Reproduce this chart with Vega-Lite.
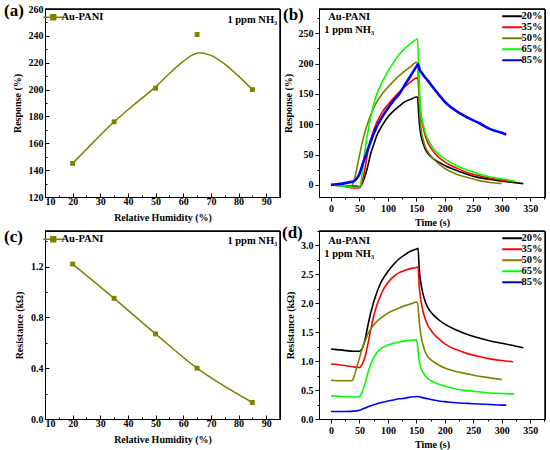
{
  "$schema": "https://vega.github.io/schema/vega-lite/v6.json",
  "padding": {"left": 3, "top": 1, "right": 0, "bottom": 0},
  "background": "white",
  "bounds": "flush",
  "align": "each",
  "columns": 2,
  "spacing": {"row": 34, "column": 39},
  "resolve": {
    "scale": {"x": "independent", "y": "independent", "color": "independent", "strokeWidth": "independent"},
    "legend": {"color": "independent"}
  },
  "datasets": {
    "a_pts": [
      {"rh": 20, "v": 145, "s": "Au-PANI"},
      {"rh": 35, "v": 176, "s": "Au-PANI"},
      {"rh": 50, "v": 201, "s": "Au-PANI"},
      {"rh": 65, "v": 241, "s": "Au-PANI"},
      {"rh": 85, "v": 200, "s": "Au-PANI"}
    ],
    "a_fit": [
      {"rh": 20, "v": 145, "s": "Au-PANI"},
      {"rh": 25, "v": 155.5, "s": "Au-PANI"},
      {"rh": 30, "v": 166, "s": "Au-PANI"},
      {"rh": 35, "v": 176, "s": "Au-PANI"},
      {"rh": 40, "v": 185, "s": "Au-PANI"},
      {"rh": 45, "v": 193.5, "s": "Au-PANI"},
      {"rh": 50, "v": 202, "s": "Au-PANI"},
      {"rh": 55, "v": 212, "s": "Au-PANI"},
      {"rh": 60, "v": 221, "s": "Au-PANI"},
      {"rh": 63, "v": 225.5, "s": "Au-PANI"},
      {"rh": 66, "v": 227.5, "s": "Au-PANI"},
      {"rh": 70, "v": 225.5, "s": "Au-PANI"},
      {"rh": 75, "v": 219, "s": "Au-PANI"},
      {"rh": 80, "v": 210, "s": "Au-PANI"},
      {"rh": 85, "v": 200, "s": "Au-PANI"}
    ],
    "c_pts": [
      {"rh": 20, "v": 1.22, "s": "Au-PANI"},
      {"rh": 35, "v": 0.95, "s": "Au-PANI"},
      {"rh": 50, "v": 0.67, "s": "Au-PANI"},
      {"rh": 65, "v": 0.40, "s": "Au-PANI"},
      {"rh": 85, "v": 0.13, "s": "Au-PANI"}
    ],
    "resp": [
      {"rh":"20%","t":0,"v":0},{"rh":"20%","t":10,"v":0},{"rh":"20%","t":20,"v":-1},{"rh":"20%","t":30,"v":-2},{"rh":"20%","t":40,"v":-2},{"rh":"20%","t":50,"v":-3},{"rh":"20%","t":55,"v":3},{"rh":"20%","t":60,"v":15},{"rh":"20%","t":65,"v":32},{"rh":"20%","t":70,"v":52},{"rh":"20%","t":75,"v":66},{"rh":"20%","t":80,"v":80},{"rh":"20%","t":90,"v":98},{"rh":"20%","t":100,"v":112},{"rh":"20%","t":110,"v":122},{"rh":"20%","t":120,"v":130},{"rh":"20%","t":130,"v":137},{"rh":"20%","t":140,"v":141},{"rh":"20%","t":150,"v":145},{"rh":"20%","t":152,"v":145},{"rh":"20%","t":154,"v":118},{"rh":"20%","t":156,"v":95},{"rh":"20%","t":158,"v":82},{"rh":"20%","t":162,"v":68},{"rh":"20%","t":166,"v":58},{"rh":"20%","t":170,"v":52},{"rh":"20%","t":180,"v":43},{"rh":"20%","t":190,"v":37},{"rh":"20%","t":200,"v":32},{"rh":"20%","t":220,"v":24},{"rh":"20%","t":240,"v":17},{"rh":"20%","t":260,"v":12},{"rh":"20%","t":280,"v":9},{"rh":"20%","t":300,"v":6},{"rh":"20%","t":320,"v":4},{"rh":"20%","t":338,"v":2},
      {"rh":"35%","t":0,"v":0},{"rh":"35%","t":10,"v":-1},{"rh":"35%","t":20,"v":-2},{"rh":"35%","t":30,"v":-4},{"rh":"35%","t":40,"v":-5},{"rh":"35%","t":50,"v":-5},{"rh":"35%","t":55,"v":5},{"rh":"35%","t":60,"v":28},{"rh":"35%","t":65,"v":55},{"rh":"35%","t":70,"v":75},{"rh":"35%","t":75,"v":90},{"rh":"35%","t":80,"v":102},{"rh":"35%","t":90,"v":120},{"rh":"35%","t":100,"v":132},{"rh":"35%","t":110,"v":143},{"rh":"35%","t":120,"v":153},{"rh":"35%","t":130,"v":162},{"rh":"35%","t":140,"v":170},{"rh":"35%","t":150,"v":176},{"rh":"35%","t":153,"v":176},{"rh":"35%","t":155,"v":145},{"rh":"35%","t":158,"v":115},{"rh":"35%","t":162,"v":95},{"rh":"35%","t":166,"v":80},{"rh":"35%","t":170,"v":70},{"rh":"35%","t":180,"v":55},{"rh":"35%","t":190,"v":45},{"rh":"35%","t":200,"v":38},{"rh":"35%","t":220,"v":28},{"rh":"35%","t":240,"v":20},{"rh":"35%","t":260,"v":15},{"rh":"35%","t":280,"v":11},{"rh":"35%","t":300,"v":8},{"rh":"35%","t":320,"v":5},
      {"rh":"50%","t":0,"v":0},{"rh":"50%","t":10,"v":0},{"rh":"50%","t":20,"v":-1},{"rh":"50%","t":30,"v":-2},{"rh":"50%","t":35,"v":-2},{"rh":"50%","t":40,"v":5},{"rh":"50%","t":45,"v":25},{"rh":"50%","t":50,"v":48},{"rh":"50%","t":55,"v":70},{"rh":"50%","t":60,"v":88},{"rh":"50%","t":65,"v":103},{"rh":"50%","t":70,"v":116},{"rh":"50%","t":80,"v":136},{"rh":"50%","t":90,"v":150},{"rh":"50%","t":100,"v":161},{"rh":"50%","t":110,"v":171},{"rh":"50%","t":120,"v":180},{"rh":"50%","t":130,"v":188},{"rh":"50%","t":140,"v":195},{"rh":"50%","t":150,"v":202},{"rh":"50%","t":152,"v":201},{"rh":"50%","t":154,"v":160},{"rh":"50%","t":156,"v":120},{"rh":"50%","t":158,"v":95},{"rh":"50%","t":162,"v":75},{"rh":"50%","t":166,"v":62},{"rh":"50%","t":170,"v":55},{"rh":"50%","t":180,"v":43},{"rh":"50%","t":190,"v":34},{"rh":"50%","t":200,"v":27},{"rh":"50%","t":220,"v":18},{"rh":"50%","t":240,"v":12},{"rh":"50%","t":260,"v":7},{"rh":"50%","t":280,"v":4},{"rh":"50%","t":300,"v":2},
      {"rh":"65%","t":0,"v":0},{"rh":"65%","t":10,"v":-1},{"rh":"65%","t":20,"v":-2},{"rh":"65%","t":30,"v":-3},{"rh":"65%","t":40,"v":-4},{"rh":"65%","t":50,"v":-4},{"rh":"65%","t":55,"v":20},{"rh":"65%","t":60,"v":58},{"rh":"65%","t":65,"v":88},{"rh":"65%","t":70,"v":112},{"rh":"65%","t":75,"v":132},{"rh":"65%","t":80,"v":148},{"rh":"65%","t":90,"v":170},{"rh":"65%","t":100,"v":187},{"rh":"65%","t":110,"v":202},{"rh":"65%","t":120,"v":215},{"rh":"65%","t":130,"v":225},{"rh":"65%","t":140,"v":233},{"rh":"65%","t":150,"v":240},{"rh":"65%","t":152,"v":241},{"rh":"65%","t":154,"v":200},{"rh":"65%","t":156,"v":150},{"rh":"65%","t":158,"v":120},{"rh":"65%","t":162,"v":100},{"rh":"65%","t":166,"v":85},{"rh":"65%","t":170,"v":76},{"rh":"65%","t":180,"v":60},{"rh":"65%","t":190,"v":50},{"rh":"65%","t":200,"v":43},{"rh":"65%","t":220,"v":32},{"rh":"65%","t":240,"v":24},{"rh":"65%","t":260,"v":18},{"rh":"65%","t":280,"v":13},{"rh":"65%","t":300,"v":10},{"rh":"65%","t":325,"v":6},
      {"rh":"85%","t":0,"v":0},{"rh":"85%","t":10,"v":1},{"rh":"85%","t":20,"v":2},{"rh":"85%","t":30,"v":4},{"rh":"85%","t":40,"v":6},{"rh":"85%","t":45,"v":10},{"rh":"85%","t":50,"v":18},{"rh":"85%","t":55,"v":32},{"rh":"85%","t":60,"v":46},{"rh":"85%","t":70,"v":72},{"rh":"85%","t":80,"v":95},{"rh":"85%","t":90,"v":112},{"rh":"85%","t":100,"v":126},{"rh":"85%","t":110,"v":139},{"rh":"85%","t":120,"v":150},{"rh":"85%","t":130,"v":165},{"rh":"85%","t":140,"v":180},{"rh":"85%","t":150,"v":195},{"rh":"85%","t":153,"v":199},{"rh":"85%","t":156,"v":190},{"rh":"85%","t":160,"v":184},{"rh":"85%","t":170,"v":172},{"rh":"85%","t":180,"v":160},{"rh":"85%","t":190,"v":148},{"rh":"85%","t":200,"v":137},{"rh":"85%","t":220,"v":122},{"rh":"85%","t":240,"v":111},{"rh":"85%","t":260,"v":102},{"rh":"85%","t":280,"v":92},{"rh":"85%","t":300,"v":86},{"rh":"85%","t":308,"v":83}
    ],
    "res": [
      {"rh":"20%","t":0,"v":1.21},{"rh":"20%","t":20,"v":1.19},{"rh":"20%","t":40,"v":1.17},{"rh":"20%","t":50,"v":1.17},{"rh":"20%","t":55,"v":1.22},{"rh":"20%","t":60,"v":1.38},{"rh":"20%","t":65,"v":1.62},{"rh":"20%","t":70,"v":1.84},{"rh":"20%","t":75,"v":2.02},{"rh":"20%","t":80,"v":2.17},{"rh":"20%","t":85,"v":2.3},{"rh":"20%","t":90,"v":2.4},{"rh":"20%","t":100,"v":2.55},{"rh":"20%","t":110,"v":2.67},{"rh":"20%","t":120,"v":2.77},{"rh":"20%","t":130,"v":2.84},{"rh":"20%","t":140,"v":2.9},{"rh":"20%","t":150,"v":2.94},{"rh":"20%","t":153,"v":2.95},{"rh":"20%","t":155,"v":2.6},{"rh":"20%","t":158,"v":2.35},{"rh":"20%","t":162,"v":2.15},{"rh":"20%","t":166,"v":2.02},{"rh":"20%","t":170,"v":1.93},{"rh":"20%","t":180,"v":1.8},{"rh":"20%","t":190,"v":1.71},{"rh":"20%","t":200,"v":1.64},{"rh":"20%","t":220,"v":1.54},{"rh":"20%","t":240,"v":1.46},{"rh":"20%","t":260,"v":1.4},{"rh":"20%","t":280,"v":1.35},{"rh":"20%","t":300,"v":1.31},{"rh":"20%","t":320,"v":1.27},{"rh":"20%","t":338,"v":1.23},
      {"rh":"35%","t":0,"v":0.95},{"rh":"35%","t":20,"v":0.93},{"rh":"35%","t":40,"v":0.9},{"rh":"35%","t":50,"v":0.89},{"rh":"35%","t":55,"v":0.95},{"rh":"35%","t":60,"v":1.08},{"rh":"35%","t":65,"v":1.3},{"rh":"35%","t":70,"v":1.55},{"rh":"35%","t":75,"v":1.78},{"rh":"35%","t":80,"v":1.95},{"rh":"35%","t":85,"v":2.08},{"rh":"35%","t":90,"v":2.2},{"rh":"35%","t":100,"v":2.36},{"rh":"35%","t":110,"v":2.46},{"rh":"35%","t":120,"v":2.53},{"rh":"35%","t":130,"v":2.57},{"rh":"35%","t":140,"v":2.6},{"rh":"35%","t":150,"v":2.62},{"rh":"35%","t":153,"v":2.63},{"rh":"35%","t":155,"v":2.3},{"rh":"35%","t":158,"v":2.05},{"rh":"35%","t":162,"v":1.85},{"rh":"35%","t":166,"v":1.72},{"rh":"35%","t":170,"v":1.62},{"rh":"35%","t":180,"v":1.48},{"rh":"35%","t":190,"v":1.38},{"rh":"35%","t":200,"v":1.3},{"rh":"35%","t":220,"v":1.2},{"rh":"35%","t":240,"v":1.13},{"rh":"35%","t":260,"v":1.08},{"rh":"35%","t":280,"v":1.04},{"rh":"35%","t":300,"v":1.01},{"rh":"35%","t":320,"v":0.99},
      {"rh":"50%","t":0,"v":0.67},{"rh":"50%","t":20,"v":0.66},{"rh":"50%","t":37,"v":0.66},{"rh":"50%","t":40,"v":0.72},{"rh":"50%","t":45,"v":0.88},{"rh":"50%","t":50,"v":1.05},{"rh":"50%","t":55,"v":1.22},{"rh":"50%","t":60,"v":1.35},{"rh":"50%","t":65,"v":1.47},{"rh":"50%","t":70,"v":1.56},{"rh":"50%","t":80,"v":1.68},{"rh":"50%","t":90,"v":1.76},{"rh":"50%","t":100,"v":1.83},{"rh":"50%","t":110,"v":1.88},{"rh":"50%","t":120,"v":1.92},{"rh":"50%","t":130,"v":1.96},{"rh":"50%","t":140,"v":1.99},{"rh":"50%","t":150,"v":2.02},{"rh":"50%","t":152,"v":2.01},{"rh":"50%","t":155,"v":1.7},{"rh":"50%","t":158,"v":1.45},{"rh":"50%","t":162,"v":1.27},{"rh":"50%","t":166,"v":1.15},{"rh":"50%","t":170,"v":1.08},{"rh":"50%","t":180,"v":0.99},{"rh":"50%","t":190,"v":0.93},{"rh":"50%","t":200,"v":0.88},{"rh":"50%","t":220,"v":0.82},{"rh":"50%","t":240,"v":0.78},{"rh":"50%","t":260,"v":0.74},{"rh":"50%","t":280,"v":0.71},{"rh":"50%","t":300,"v":0.68},
      {"rh":"65%","t":0,"v":0.4},{"rh":"65%","t":20,"v":0.39},{"rh":"65%","t":40,"v":0.38},{"rh":"65%","t":50,"v":0.39},{"rh":"65%","t":55,"v":0.47},{"rh":"65%","t":60,"v":0.62},{"rh":"65%","t":65,"v":0.8},{"rh":"65%","t":70,"v":0.95},{"rh":"65%","t":75,"v":1.06},{"rh":"65%","t":80,"v":1.14},{"rh":"65%","t":90,"v":1.23},{"rh":"65%","t":100,"v":1.28},{"rh":"65%","t":110,"v":1.31},{"rh":"65%","t":120,"v":1.33},{"rh":"65%","t":130,"v":1.35},{"rh":"65%","t":140,"v":1.36},{"rh":"65%","t":150,"v":1.37},{"rh":"65%","t":153,"v":1.2},{"rh":"65%","t":155,"v":1.0},{"rh":"65%","t":158,"v":0.88},{"rh":"65%","t":162,"v":0.8},{"rh":"65%","t":166,"v":0.74},{"rh":"65%","t":170,"v":0.7},{"rh":"65%","t":180,"v":0.64},{"rh":"65%","t":190,"v":0.6},{"rh":"65%","t":200,"v":0.57},{"rh":"65%","t":220,"v":0.52},{"rh":"65%","t":240,"v":0.49},{"rh":"65%","t":260,"v":0.47},{"rh":"65%","t":280,"v":0.45},{"rh":"65%","t":300,"v":0.44},{"rh":"65%","t":322,"v":0.43},
      {"rh":"85%","t":0,"v":0.13},{"rh":"85%","t":25,"v":0.13},{"rh":"85%","t":45,"v":0.14},{"rh":"85%","t":50,"v":0.15},{"rh":"85%","t":60,"v":0.19},{"rh":"85%","t":70,"v":0.23},{"rh":"85%","t":80,"v":0.26},{"rh":"85%","t":90,"v":0.29},{"rh":"85%","t":100,"v":0.31},{"rh":"85%","t":110,"v":0.33},{"rh":"85%","t":120,"v":0.35},{"rh":"85%","t":130,"v":0.36},{"rh":"85%","t":140,"v":0.38},{"rh":"85%","t":152,"v":0.39},{"rh":"85%","t":160,"v":0.37},{"rh":"85%","t":170,"v":0.35},{"rh":"85%","t":180,"v":0.33},{"rh":"85%","t":190,"v":0.31},{"rh":"85%","t":200,"v":0.3},{"rh":"85%","t":220,"v":0.28},{"rh":"85%","t":240,"v":0.27},{"rh":"85%","t":260,"v":0.26},{"rh":"85%","t":280,"v":0.25},{"rh":"85%","t":300,"v":0.24},{"rh":"85%","t":308,"v":0.24}
    ]
  },
  "concat": [
    {
      "width": 235,
      "height": 188,
      "view": {"stroke": "black", "strokeWidth": 1},
      "title": {"text": "(a)", "anchor": "start", "frame": "group", "dx": -41, "offset": -29, "baseline": "alphabetic"},
      "layer": [
        {
          "data": {"name": "a_fit"},
          "mark": {"type": "line", "interpolate": "monotone", "strokeWidth": 1.5},
          "encoding": {
            "x": {"field": "rh", "type": "quantitative", "scale": {"domain": [10, 95], "nice": false, "zero": false},
              "axis": {"title": "Relative Humidity (%)", "values": [10,15,20,25,30,35,40,45,50,55,60,65,70,75,80,85,90],
                "tickCount": 100, "labelOverlap": false,
                "labelExpr": "datum.value % 10 === 0 ? datum.label : ''",
                "tickSize": {"condition": {"test": "datum.value % 10 === 0", "value": -4}, "value": -2},
                "labelPadding": 3, "titlePadding": 4}},
            "y": {"field": "v", "type": "quantitative", "scale": {"domain": [120, 260], "nice": false, "zero": false},
              "axis": {"title": "Response (%)", "values": [120,130,140,150,160,170,180,190,200,210,220,230,240,250,260],
                "tickCount": 100, "labelOverlap": false,
                "labelExpr": "datum.value % 20 === 0 ? datum.label : ''",
                "tickSize": {"condition": {"test": "datum.value % 20 === 0", "value": -4}, "value": -2},
                "labelPadding": 6, "titlePadding": 6}},
            "color": {"field": "s", "type": "nominal", "scale": {"range": ["#808000"]},
              "legend": {"title": null, "orient": "top-left", "offset": 3, "symbolType": "M-2.5,0L2.5,0M-0.6,-0.6L0.6,-0.6L0.6,0.6L-0.6,0.6Z", "symbolSize": 64, "symbolStrokeWidth": 1.5, "symbolFillColor": "#808000", "labelOffset": 3}}
          }
        },
        {
          "data": {"name": "a_pts"},
          "mark": {"type": "square", "size": 24, "opacity": 1, "filled": true},
          "encoding": {
            "x": {"field": "rh", "type": "quantitative"},
            "y": {"field": "v", "type": "quantitative"},
            "color": {"field": "s", "type": "nominal"}
          }
        },
        {
          "data": {"values": [{}]},
          "mark": {"type": "text", "text": "1 ppm NH₃", "align": "right", "baseline": "middle", "fontSize": 10.5, "fontWeight": "bold", "font": "Liberation Serif", "color": "black"},
          "encoding": {"x": {"datum": 94}, "y": {"datum": 252}}
        },
        {
          "data": {"values": [{}]},
          "mark": {"type": "rule", "color": "black", "strokeWidth": 1.5, "clip": false},
          "encoding": {"y": {"datum": 260}}
        },
        {
          "data": {"values": [{}]},
          "mark": {"type": "rule", "color": "black", "strokeWidth": 1.5, "clip": false},
          "encoding": {"x": {"datum": 95}}
        }
      ]
    },
    {
      "width": 226,
      "height": 188,
      "view": {"stroke": "black", "strokeWidth": 1},
      "title": {"text": "(b)", "anchor": "start", "frame": "group", "dx": -36, "offset": -29, "baseline": "alphabetic"},
      "layer": [
        {
          "data": {"name": "resp"},
          "mark": {"type": "line", "interpolate": "monotone"},
          "encoding": {
            "x": {"field": "t", "type": "quantitative", "scale": {"domain": [-21, 376], "nice": false, "zero": false},
              "axis": {"title": "Time (s)", "values": [0,25,50,75,100,125,150,175,200,225,250,275,300,325,350,375],
                "tickCount": 100, "labelOverlap": false,
                "labelExpr": "datum.value % 50 === 0 ? datum.label : ''",
                "tickSize": {"condition": {"test": "datum.value % 50 === 0", "value": 4}, "value": 2},
                "labelPadding": 2, "titlePadding": 4}},
            "y": {"field": "v", "type": "quantitative", "scale": {"domain": [-20, 290], "nice": false, "zero": false},
              "axis": {"title": "Response (%)", "values": [0,25,50,75,100,125,150,175,200,225,250,275],
                "tickCount": 100, "labelOverlap": false,
                "labelExpr": "datum.value % 50 === 0 ? datum.label : ''",
                "tickSize": {"condition": {"test": "datum.value % 50 === 0", "value": 4}, "value": 2},
                "labelPadding": 2, "titlePadding": 5}},
            "color": {"field": "rh", "type": "nominal",
              "scale": {"domain": ["20%", "35%", "50%", "65%", "85%"], "range": ["#000000", "#ff0000", "#808000", "#00ff00", "#0000ff"]},
              "legend": {"title": null, "orient": "top-right", "offset": 2, "symbolType": "M-2.5,0L2.5,0", "symbolSize": 64, "symbolStrokeWidth": 2, "labelOffset": 4, "rowPadding": -1.5, "labelFontSize": 10.5}},
            "strokeWidth": {"condition": {"test": "datum.rh === '85%'", "value": 2.6}, "value": 1.6}
          }
        },
        {
          "data": {"values": [{}]},
          "mark": {"type": "text", "text": ["Au-PANI", "1 ppm NH₃"], "align": "center", "baseline": "top", "lineHeight": 13, "fontSize": 10.5, "fontWeight": "bold", "font": "Liberation Serif", "color": "black"},
          "encoding": {"x": {"datum": 32}, "y": {"datum": 285}}
        },
        {
          "data": {"values": [{}]},
          "mark": {"type": "rule", "color": "black", "strokeWidth": 1.5, "clip": false},
          "encoding": {"y": {"datum": 290}}
        },
        {
          "data": {"values": [{}]},
          "mark": {"type": "rule", "color": "black", "strokeWidth": 1.5, "clip": false},
          "encoding": {"x": {"datum": 376}}
        }
      ]
    },
    {
      "width": 235,
      "height": 188,
      "view": {"stroke": "black", "strokeWidth": 1},
      "title": {"text": "(c)", "anchor": "start", "frame": "group", "dx": -41, "offset": -29, "baseline": "alphabetic"},
      "layer": [
        {
          "data": {"name": "c_pts"},
          "mark": {"type": "line", "interpolate": "monotone", "strokeWidth": 1.5},
          "encoding": {
            "x": {"field": "rh", "type": "quantitative", "scale": {"domain": [10, 95], "nice": false, "zero": false},
              "axis": {"title": "Relative Humidity (%)", "values": [10,15,20,25,30,35,40,45,50,55,60,65,70,75,80,85,90],
                "tickCount": 100, "labelOverlap": false,
                "labelExpr": "datum.value % 10 === 0 ? datum.label : ''",
                "tickSize": {"condition": {"test": "datum.value % 10 === 0", "value": -4}, "value": -2},
                "labelPadding": 3, "titlePadding": 4}},
            "y": {"field": "v", "type": "quantitative", "scale": {"domain": [0, 1.48], "nice": false},
              "axis": {"title": "Resistance (kΩ)", "values": [0,0.2,0.4,0.6,0.8,1.0,1.2,1.4], "format": ".1f",
                "tickCount": 100, "labelOverlap": false,
                "labelExpr": "round(datum.value * 10) % 4 === 0 ? datum.label : ''",
                "tickSize": {"condition": {"test": "round(datum.value * 10) % 4 === 0", "value": -4}, "value": -2},
                "labelPadding": 6, "titlePadding": 6}},
            "color": {"field": "s", "type": "nominal", "scale": {"range": ["#808000"]},
              "legend": {"title": null, "orient": "top-left", "offset": 3, "symbolType": "M-2.5,0L2.5,0M-0.6,-0.6L0.6,-0.6L0.6,0.6L-0.6,0.6Z", "symbolSize": 64, "symbolStrokeWidth": 1.5, "symbolFillColor": "#808000", "labelOffset": 3}}
          }
        },
        {
          "data": {"name": "c_pts"},
          "mark": {"type": "square", "size": 24, "opacity": 1, "filled": true},
          "encoding": {
            "x": {"field": "rh", "type": "quantitative"},
            "y": {"field": "v", "type": "quantitative"},
            "color": {"field": "s", "type": "nominal"}
          }
        },
        {
          "data": {"values": [{}]},
          "mark": {"type": "text", "text": "1 ppm NH₃", "align": "right", "baseline": "middle", "fontSize": 10.5, "fontWeight": "bold", "font": "Liberation Serif", "color": "black"},
          "encoding": {"x": {"datum": 94}, "y": {"datum": 1.405}}
        },
        {
          "data": {"values": [{}]},
          "mark": {"type": "rule", "color": "black", "strokeWidth": 1.5, "clip": false},
          "encoding": {"y": {"datum": 1.48}}
        },
        {
          "data": {"values": [{}]},
          "mark": {"type": "rule", "color": "black", "strokeWidth": 1.5, "clip": false},
          "encoding": {"x": {"datum": 95}}
        }
      ]
    },
    {
      "width": 226,
      "height": 188,
      "view": {"stroke": "black", "strokeWidth": 1},
      "title": {"text": "(d)", "anchor": "start", "frame": "group", "dx": -37, "offset": -29, "baseline": "alphabetic"},
      "layer": [
        {
          "data": {"name": "res"},
          "mark": {"type": "line", "interpolate": "monotone", "strokeWidth": 1.6},
          "encoding": {
            "x": {"field": "t", "type": "quantitative", "scale": {"domain": [-21, 376], "nice": false, "zero": false},
              "axis": {"title": "Time (s)", "values": [0,25,50,75,100,125,150,175,200,225,250,275,300,325,350,375],
                "tickCount": 100, "labelOverlap": false,
                "labelExpr": "datum.value % 50 === 0 ? datum.label : ''",
                "tickSize": {"condition": {"test": "datum.value % 50 === 0", "value": 4}, "value": 2},
                "labelPadding": 2, "titlePadding": 4}},
            "y": {"field": "v", "type": "quantitative", "scale": {"domain": [0, 3.25], "nice": false},
              "axis": {"title": "Resistance (kΩ)", "values": [0,0.25,0.5,0.75,1.0,1.25,1.5,1.75,2.0,2.25,2.5,2.75,3.0,3.25], "format": ".1f",
                "tickCount": 100, "labelOverlap": false,
                "labelExpr": "round(datum.value * 4) % 2 === 0 ? datum.label : ''",
                "tickSize": {"condition": {"test": "round(datum.value * 4) % 2 === 0", "value": 4}, "value": 2},
                "labelPadding": 2, "titlePadding": 5}},
            "color": {"field": "rh", "type": "nominal",
              "scale": {"domain": ["20%", "35%", "50%", "65%", "85%"], "range": ["#000000", "#ff0000", "#808000", "#00ff00", "#0000ff"]},
              "legend": {"title": null, "orient": "top-right", "offset": 2, "symbolType": "M-2.5,0L2.5,0", "symbolSize": 64, "symbolStrokeWidth": 2, "labelOffset": 4, "rowPadding": -1.5, "labelFontSize": 10.5}}
          }
        },
        {
          "data": {"values": [{}]},
          "mark": {"type": "text", "text": ["Au-PANI", "1 ppm NH₃"], "align": "center", "baseline": "top", "lineHeight": 13, "fontSize": 10.5, "fontWeight": "bold", "font": "Liberation Serif", "color": "black"},
          "encoding": {"x": {"datum": 32}, "y": {"datum": 3.16}}
        },
        {
          "data": {"values": [{}]},
          "mark": {"type": "rule", "color": "black", "strokeWidth": 1.5, "clip": false},
          "encoding": {"y": {"datum": 3.25}}
        },
        {
          "data": {"values": [{}]},
          "mark": {"type": "rule", "color": "black", "strokeWidth": 1.5, "clip": false},
          "encoding": {"x": {"datum": 376}}
        }
      ]
    }
  ],
  "config": {
    "font": "Liberation Serif",
    "view": {"stroke": "black", "strokeWidth": 1},
    "style": {"cell": {"stroke": "black", "strokeWidth": 1}},
    "axis": {
      "grid": false,
      "labelOverlap": false,
      "domainColor": "black",
      "domainWidth": 1,
      "tickColor": "black",
      "tickWidth": 1,
      "labelFont": "Liberation Serif",
      "labelFontWeight": "bold",
      "labelFontSize": 10,
      "labelColor": "black",
      "titleFont": "Liberation Serif",
      "titleFontWeight": "bold",
      "titleFontSize": 10,
      "titleColor": "black"
    },
    "legend": {
      "labelFont": "Liberation Serif",
      "labelFontWeight": "bold",
      "labelFontSize": 10.5,
      "labelColor": "black",
      "padding": 0
    },
    "title": {
      "font": "Liberation Serif",
      "fontWeight": "bold",
      "fontSize": 17,
      "color": "black"
    }
  }
}
